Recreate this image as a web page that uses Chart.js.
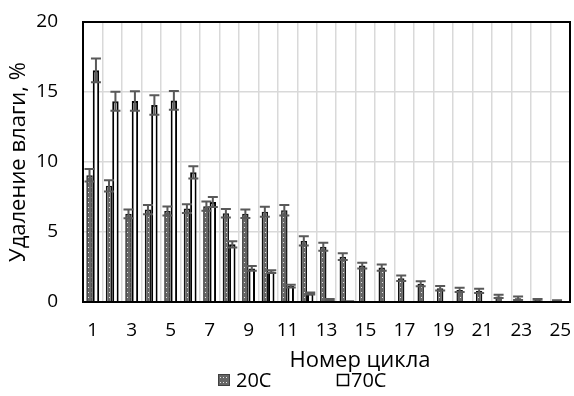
<!DOCTYPE html>
<html>
<head>
<meta charset="utf-8">
<script src="https://cdn.jsdelivr.net/npm/chart.js@4"></script>
<style>
  html, body { margin: 0; padding: 0; background: #fff; }
</style>
</head>
<body>
<canvas id="chart" width="574" height="396"></canvas>
<script>
// Cycle numbers on the x axis
const cycles = ['1', '2', '3', '4', '5', '6', '7', '8', '9', '10', '11', '12', '13',
    '14', '15', '16', '17', '18', '19', '20', '21', '22', '23', '24', '25'];

// Moisture removal, %
const removal20 = [9.05, 8.3, 6.3, 6.6, 6.5, 6.67, 6.84, 6.34, 6.3, 6.45, 6.55, 4.36, 3.95,
    3.24, 2.6, 2.46, 1.7, 1.3, 0.98, 0.86, 0.8, 0.4, 0.27, 0.14, 0.07];
const removal70 = [16.55, 14.34, 14.36, 14.07, 14.4, 9.26, 7.14, 4.12, 2.4, 2.17, 1.14, 0.6, 0.16,
    0.03, 0, 0, 0, 0, 0, 0, 0, 0, 0, 0, 0];

// Error bar half-widths
const err20 = [0.45, 0.4, 0.31, 0.33, 0.33, 0.31, 0.33, 0.31, 0.3, 0.36, 0.38, 0.33, 0.29,
    0.24, 0.2, 0.22, 0.2, 0.18, 0.16, 0.15, 0.15, 0.12, 0.12, 0.08, 0.05];
const err70 = [0.85, 0.68, 0.7, 0.7, 0.67, 0.43, 0.36, 0.22, 0.17, 0.1, 0.1, 0.07, 0.05,
    0.02, 0, 0, 0, 0, 0, 0, 0, 0, 0, 0, 0];

const yTicks = [0, 5, 10, 15, 20];
const seriesNames = ['20C', '70C'];

const FONT = "'Open Sans', sans-serif";
const canvas = document.getElementById('chart');
const ctx = canvas.getContext('2d');

// grey fill with small light dots, like the Excel pattern fill
function dotPattern() {
    const c = document.createElement('canvas');
    c.width = 3;
    c.height = 5;
    const g = c.getContext('2d');
    g.fillStyle = '#666';
    g.fillRect(0, 0, 3, 5);
    g.fillStyle = '#e6e6e6';
    g.fillRect(1, 2, 1, 1);
    return ctx.createPattern(c, 'repeat');
}
const pattern = dotPattern();

const errorBars = {
    id: 'errorBars',
    afterDatasetsDraw(chart) {
        const c = chart.ctx;
        const y = chart.scales.y;
        const errs = [err20, err70];
        c.save();
        c.strokeStyle = '#595959';
        c.lineWidth = 2;
        chart.data.datasets.forEach((ds, di) => {
            chart.getDatasetMeta(di).data.forEach((bar, i) => {
                const e = errs[di][i];
                if (!e) return;
                const v = ds.data[i];
                const top = y.getPixelForValue(v + e);
                const bot = y.getPixelForValue(Math.max(0, v - e));
                const w = 5;
                c.beginPath();
                c.moveTo(bar.x, top); c.lineTo(bar.x, bot);
                c.moveTo(bar.x - w, top); c.lineTo(bar.x + w, top);
                c.moveTo(bar.x - w, bot); c.lineTo(bar.x + w, bot);
                c.stroke();
            });
        });
        c.restore();
    }
};

// black box round the plot area, x title and legend under the axis
const extras = {
    id: 'extras',
    afterDraw(chart) {
        const c = chart.ctx;
        const a = chart.chartArea;
        c.save();
        c.strokeStyle = '#000';
        c.lineWidth = 2;
        c.strokeRect(a.left, a.top, a.right - a.left, a.bottom - a.top);

        c.fillStyle = '#000';
        c.font = '22px ' + FONT;
        c.textAlign = 'center';
        c.textBaseline = 'alphabetic';
        c.fillText('Номер цикла', 360, 367);

        // legend
        c.font = '20px ' + FONT;
        c.textAlign = 'left';
        c.fillStyle = pattern;
        c.fillRect(218, 374, 12, 12);
        c.strokeStyle = '#404040';
        c.lineWidth = 1;
        c.strokeRect(218.5, 374.5, 11, 11);
        c.fillStyle = '#000';
        c.fillText(seriesNames[0], 236, 387);

        c.fillStyle = '#fff';
        c.fillRect(337, 374, 12, 12);
        c.strokeStyle = '#000';
        c.lineWidth = 1.5;
        c.strokeRect(337.5, 374.5, 11, 11);
        c.fillStyle = '#000';
        c.fillText(seriesNames[1], 351, 387);
        c.restore();
    }
};

new Chart(ctx, {
    type: 'bar',
    data: {
        labels: cycles,
        datasets: [{
            label: seriesNames[0],
            data: removal20,
            backgroundColor: pattern,
            borderColor: '#111',
            borderWidth: 1.5,
            categoryPercentage: 0.66,
            barPercentage: 1.0
        }, {
            label: seriesNames[1],
            data: removal70,
            backgroundColor: '#fff',
            borderColor: '#000',
            borderWidth: 2,
            categoryPercentage: 0.66,
            barPercentage: 1.0
        }]
    },
    options: {
        responsive: false,
        animation: false,
        devicePixelRatio: 1,
        layout: { padding: { top: 22, right: 4, left: 0, bottom: 0 } },
        plugins: {
            legend: { display: false },
            tooltip: { enabled: false }
        },
        scales: {
            x: {
                grid: { color: '#d9d9d9', lineWidth: 1.5, drawTicks: false },
                border: { color: '#000', width: 2 },
                ticks: {
                    color: '#000',
                    font: { family: FONT, size: 19 },
                    padding: 17,
                    autoSkip: false,
                    maxRotation: 0,
                    callback: (v, i) => (i % 2 === 0 ? cycles[i] : '')
                },
                afterFit(scale) {
                    scale.height = 94;
                    scale.paddingLeft = 0;
                    scale.paddingRight = 0;
                }
            },
            y: {
                min: 0,
                max: 20,
                afterBuildTicks(scale) { scale.ticks = yTicks.map(v => ({ value: v })); },
                grid: { color: '#d9d9d9', lineWidth: 1.5, drawTicks: false },
                border: { color: '#000', width: 2 },
                ticks: {
                    color: '#000',
                    font: { family: FONT, size: 19 },
                    padding: 25
                },
                title: {
                    display: true,
                    text: 'Удаление влаги, %',
                    color: '#000',
                    font: { family: FONT, size: 22 },
                    padding: { top: 6, bottom: 0 }
                },
                afterFit(scale) {
                    scale.width = 83;
                    scale.paddingTop = 0;
                    scale.paddingBottom = 0;
                }
            }
        }
    },
    plugins: [errorBars, extras]
});
</script>
</body>
</html>
